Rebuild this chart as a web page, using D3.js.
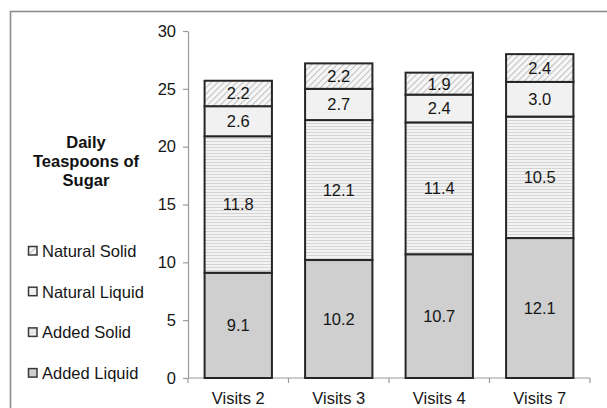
<!DOCTYPE html>
<html>
<head>
<meta charset="utf-8">
<script src="https://cdn.jsdelivr.net/npm/d3@7"></script>
<style>
  html, body { margin: 0; padding: 0; background: #fff; }
  svg { display: block; font-family: "Liberation Sans", Arial, sans-serif; }
</style>
</head>
<body>
<svg id="chart" width="607" height="408"></svg>
<script>
// Daily teaspoons of sugar by visit, split by source
const categories = ["Visits 2", "Visits 3", "Visits 4", "Visits 7"];
const addedLiquid = [9.1, 10.2, 10.7, 12.1];
const addedSolid = [11.8, 12.1, 11.4, 10.5];
const naturalLiquid = [2.6, 2.7, 2.4, 3.0];
const naturalSolid = [2.2, 2.2, 1.9, 2.4];
const seriesNames = ["Added Liquid", "Added Solid", "Natural Liquid", "Natural Solid"];
const yTicks = [0, 5, 10, 15, 20, 25, 30];
const legendTitle = ["Daily", "Teaspoons of", "Sugar"];

const svg = d3.select("#chart");

// Fill patterns for each series
const defs = svg.append("defs");
const stripes = defs.append("pattern")
  .attr("id", "pat-stripes").attr("patternUnits", "userSpaceOnUse")
  .attr("width", 6).attr("height", 3);
stripes.append("rect").attr("width", 6).attr("height", 3).attr("fill", "#f3f3f3");
stripes.append("rect").attr("y", 0).attr("width", 6).attr("height", 1).attr("fill", "#d4d4d4");

const hatch = defs.append("pattern")
  .attr("id", "pat-hatch").attr("patternUnits", "userSpaceOnUse")
  .attr("width", 4.5).attr("height", 4.5)
  .attr("patternTransform", "rotate(45)");
hatch.append("rect").attr("width", 4.5).attr("height", 4.5).attr("fill", "#f7f7f7");
hatch.append("rect").attr("x", 0).attr("width", 1.1).attr("height", 4.5).attr("fill", "#c2c2c2");

const fills = {
  "Added Liquid": "#cfcfcf",
  "Added Solid": "url(#pat-stripes)",
  "Natural Liquid": "#f1f1f1",
  "Natural Solid": "url(#pat-hatch)"
};

// Outer chart frame
svg.append("rect")
  .attr("x", 10.5).attr("y", 11.5).attr("width", 700).attr("height", 500)
  .attr("fill", "none").attr("stroke", "#8c8c8c").attr("stroke-width", 1.6);

const x = d3.scaleBand().domain(categories).range([188, 590])
  .paddingInner(0.33).paddingOuter(0.165);
const y = d3.scaleLinear().domain([0, 30]).range([378, 31]);

const rows = categories.map((c, i) => ({
  category: c,
  "Added Liquid": addedLiquid[i],
  "Added Solid": addedSolid[i],
  "Natural Liquid": naturalLiquid[i],
  "Natural Solid": naturalSolid[i]
}));
const stacked = d3.stack().keys(seriesNames)(rows);

// Y axis
const yAxis = svg.append("g").attr("transform", "translate(188,0)")
  .call(d3.axisLeft(y).tickValues(yTicks).tickSize(5).tickPadding(7).tickSizeOuter(0));
yAxis.select(".domain").attr("stroke", "#9a9a9a").attr("stroke-width", 1.2);
yAxis.selectAll(".tick line").attr("stroke", "#9a9a9a").attr("stroke-width", 1.2);
yAxis.selectAll(".tick text").attr("fill", "#161616").attr("font-size", 16.5)
  .attr("font-family", "Liberation Sans, Arial, sans-serif");

// X axis with ticks on category boundaries
const xAxisG = svg.append("g").attr("transform", "translate(0,378)");
xAxisG.append("line").attr("x1", 188).attr("x2", 590)
  .attr("stroke", "#9a9a9a").attr("stroke-width", 1.2);
const bounds = categories.map(c => x(c) - x.step() * x.paddingOuter())
  .concat([x(categories[categories.length - 1]) + x.bandwidth() + x.step() * x.paddingOuter()]);
xAxisG.selectAll("line.tk").data(bounds).join("line").attr("class", "tk")
  .attr("x1", d => d).attr("x2", d => d).attr("y1", 0).attr("y2", 5)
  .attr("stroke", "#9a9a9a").attr("stroke-width", 1.2);
xAxisG.selectAll("text").data(categories).join("text")
  .attr("x", d => x(d) + x.bandwidth() / 2).attr("y", 14).attr("dy", "0.71em")
  .attr("text-anchor", "middle").attr("font-size", 16.5).attr("fill", "#161616")
  .text(d => d);

// Stacked bars
const layers = svg.append("g").selectAll("g").data(stacked).join("g")
  .attr("fill", d => fills[d.key]);
layers.selectAll("rect").data(d => d).join("rect")
  .attr("x", d => x(d.data.category))
  .attr("y", d => y(d[1]))
  .attr("width", x.bandwidth())
  .attr("height", d => y(d[0]) - y(d[1]))
  .attr("stroke", "#262626").attr("stroke-width", 2);

// Value labels centred in each segment
const labels = svg.append("g");
stacked.forEach(layer => {
  labels.selectAll(null).data(layer).join("text")
    .attr("x", d => x(d.data.category) + x.bandwidth() / 2)
    .attr("y", d => y((d[0] + d[1]) / 2))
    .attr("dy", "0.36em")
    .attr("text-anchor", "middle").attr("font-size", 16.5).attr("fill", "#161616")
    .text(d => (d[1] - d[0]).toFixed(1));
});

// Legend
const leg = svg.append("g");
leg.selectAll("text.title").data(legendTitle).join("text").attr("class", "title")
  .attr("x", 86).attr("y", (d, i) => 148 + i * 19)
  .attr("text-anchor", "middle").attr("font-size", 16.5).attr("font-weight", "bold")
  .attr("fill", "#111").text(d => d);

const legendOrder = seriesNames.slice().reverse();
const item = leg.selectAll("g.item").data(legendOrder).join("g").attr("class", "item")
  .attr("transform", (d, i) => `translate(0,${257 + i * 40.7})`);
item.append("rect").attr("x", 28.5).attr("y", -10.5).attr("width", 8.5).attr("height", 8.5)
  .attr("fill", d => fills[d]).attr("stroke", "#3a3a3a").attr("stroke-width", 1.5);
item.append("text").attr("x", 42).attr("y", 0).attr("font-size", 16.5)
  .attr("fill", "#161616").text(d => d);
</script>
</body>
</html>
